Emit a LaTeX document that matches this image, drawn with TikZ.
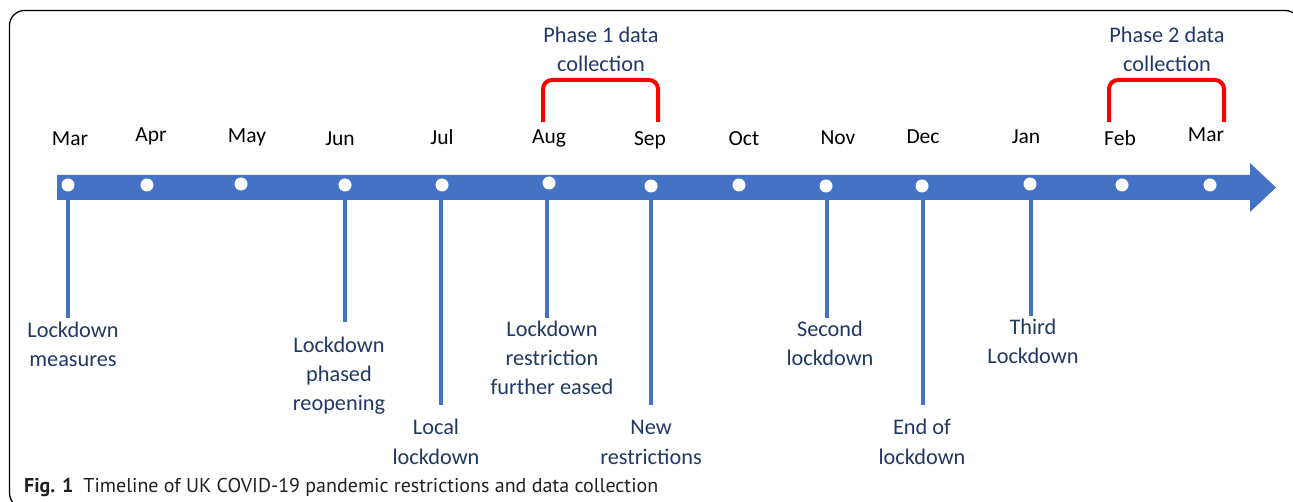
\documentclass[tikz,border=0pt]{standalone}
\usepackage{fontspec}
\setmainfont{Carlito}
\newfontfamily\capfont{PT Sans}
\definecolor{barblue}{HTML}{4472C4}
\definecolor{labnavy}{HTML}{203864}
\definecolor{capgray}{HTML}{231F20}
\begin{document}
\begin{tikzpicture}[x=1pt,y=-1pt,
  evlab/.style={anchor=base, align=center, text=labnavy, inner sep=0pt,
    font=\fontsize{22.3}{29}\selectfont},
  month/.style={anchor=base, inner sep=0pt, text=black,
    font=\fontsize{21.5}{26}\selectfont},
  dot/.style={circle, fill=white, draw=none, minimum size=13pt, inner sep=0pt},
  vline/.style={draw=barblue, line width=3.6pt},
  bracketline/.style={draw=red, line width=4pt, rounded corners=9pt},
  frameline/.style={draw=black, line width=1.3pt, rounded corners=15pt}]
\useasboundingbox (0,0) rectangle (1293,502);
\clip (0,0) rectangle (1293,502);
% frame
\draw[frameline] (9.5,10.5) rectangle (1300,508);
% timeline bar with arrow head
\fill[barblue] (57,175) -- (1250,175) -- (1250,163) -- (1276,187.5)
  -- (1250,212) -- (1250,200) -- (57,200) -- cycle;
% dots
\node[dot] (d1) at (68,185) {};
\node[dot] (d2) at (147,185) {};
\node[dot] (d3) at (241,184) {};
\node[dot] (d4) at (345,185) {};
\node[dot] (d5) at (442,185) {};
\node[dot] (d6) at (549,183) {};
\node[dot] (d7) at (651,186) {};
\node[dot] (d8) at (739,185) {};
\node[dot] (d9) at (826,186) {};
\node[dot] (d10) at (922,186) {};
\node[dot] (d11) at (1030,184) {};
\node[dot] (d12) at (1122,185) {};
\node[dot] (d13) at (1210,185) {};
% months
\node[month] (m1) at (70,146) {Mar};
\node[month] (m2) at (151,142) {Apr};
\node[month] (m3) at (247,143) {May};
\node[month] (m4) at (340,146) {Jun};
\node[month] (m5) at (442,145) {Jul};
\node[month] (m6) at (549,144) {Aug};
\node[month] (m7) at (650,146) {Sep};
\node[month] (m8) at (744,146) {Oct};
\node[month] (m9) at (838,145) {Nov};
\node[month] (m10) at (923,144) {Dec};
\node[month] (m11) at (1026,144) {Jan};
\node[month] (m12) at (1120,146) {Feb};
\node[month] (m13) at (1206,142) {Mar};
% vertical line start and end points
\coordinate (s1) at (68,200);  \coordinate (e1) at (68,318);
\coordinate (s4) at (345,200); \coordinate (e4) at (345,322);
\coordinate (s5) at (441,200); \coordinate (e5) at (441,405);
\coordinate (s6) at (547,200); \coordinate (e6) at (547,318);
\coordinate (s7) at (651,200); \coordinate (e7) at (651,405);
\coordinate (s9) at (827,200); \coordinate (e9) at (827,318);
\coordinate (s10) at (923,200); \coordinate (e10) at (923,405);
\coordinate (s11) at (1031,200); \coordinate (e11) at (1031,316);
\draw[vline] (s1) -- (e1);
\draw[vline] (s4) -- (e4);
\draw[vline] (s5) -- (e5);
\draw[vline] (s6) -- (e6);
\draw[vline] (s7) -- (e7);
\draw[vline] (s9) -- (e9);
\draw[vline] (s10) -- (e10);
\draw[vline] (s11) -- (e11);
% event labels (anchor = baseline of last line)
\node[evlab] (l1) at (73,367) {Lockdown\\measures};
\node[evlab] (l4) at (339,410) {Lockdown\\phased\\reopening};
\node[evlab] (l5) at (436,464) {Local\\lockdown};
\node[evlab] (l6) at (552,395) {Lockdown\\restriction\\further eased};
\node[evlab] (l7) at (651,464) {New\\restrictions};
\node[evlab] (l9) at (830,366) {Second\\lockdown};
\node[evlab] (l10) at (922,464) {End of\\lockdown};
\node[evlab] (l11) at (1033,364) {Third\\Lockdown};
% phase labels and brackets
\node[evlab] (p1) at (601,72) {Phase 1 data\\collection};
\node[evlab] (p2) at (1167,72) {Phase 2 data\\collection};
\coordinate (b1a) at (543,122); \coordinate (b1b) at (543,80);
\coordinate (b1c) at (658,80);  \coordinate (b1d) at (658,122);
\coordinate (b2a) at (1109,122); \coordinate (b2b) at (1109,80);
\coordinate (b2c) at (1224,80);  \coordinate (b2d) at (1224,122);
\draw[bracketline] (b1a) -- (b1b) -- (b1c) -- (b1d);
\draw[bracketline] (b2a) -- (b2b) -- (b2c) -- (b2d);
% caption
\node[anchor=base west, inner sep=0pt, text=capgray,
  font=\capfont\fontsize{20}{23}\selectfont] (cap) at (24,492)
  {\textbf{Fig. 1}\hspace{10pt}Timeline of UK COVID-19 pandemic restrictions and data collection};
\end{tikzpicture}
\end{document}
